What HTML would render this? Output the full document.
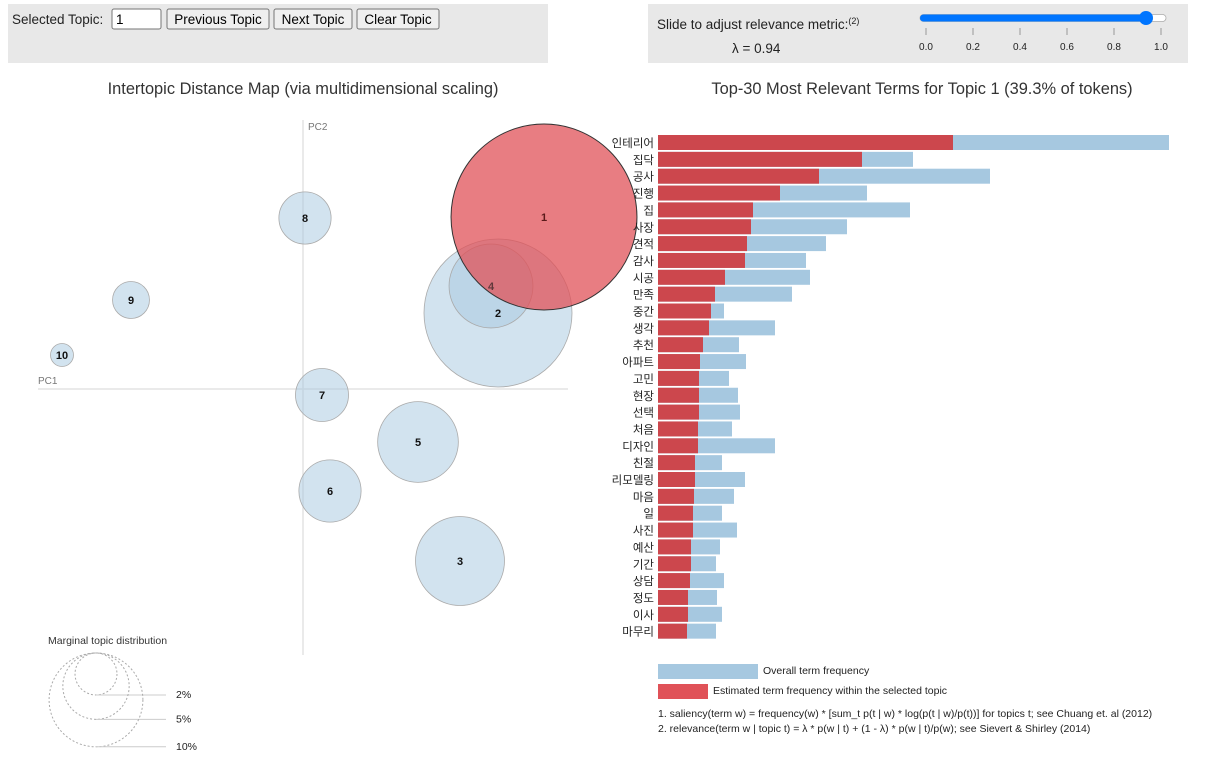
<!DOCTYPE html>
<html><head><meta charset="utf-8">
<style>
body{margin:0;background:#fff;font-family:"Liberation Sans","Noto Sans CJK KR",sans-serif;}
svg text{font-family:"Liberation Sans","Noto Sans CJK KR",sans-serif;}
</style></head>
<body>
<svg id="root" width="1222" height="777" viewBox="0 0 1222 777" xmlns="http://www.w3.org/2000/svg">
  <rect x="8" y="4" width="540" height="59" fill="#e8e8e8"/>
  <text x="12" y="24" font-size="13.5" fill="#222">Selected Topic:</text>
  <rect x="112" y="9" width="49" height="20" fill="#fff" stroke="#767676" rx="2"/>
  <text x="116" y="24" font-size="13.5" fill="#000">1</text>
  <g><rect x="167" y="9" width="102" height="20" fill="#efefef" stroke="#767676" rx="2"/><text x="218" y="24" font-size="13.5" text-anchor="middle" fill="#000">Previous Topic</text></g>
  <g><rect x="274" y="9" width="78" height="20" fill="#efefef" stroke="#767676" rx="2"/><text x="313" y="24" font-size="13.5" text-anchor="middle" fill="#000">Next Topic</text></g>
  <g><rect x="357" y="9" width="82" height="20" fill="#efefef" stroke="#767676" rx="2"/><text x="398" y="24" font-size="13.5" text-anchor="middle" fill="#000">Clear Topic</text></g>

  <rect x="648" y="4" width="540" height="59" fill="#e8e8e8"/>
  <text x="657" y="29" font-size="13.5" fill="#222">Slide to adjust relevance metric:<tspan font-size="9" dy="-5">(2)</tspan></text>
  <text x="732" y="53" font-size="13.5" fill="#222">λ = 0.94</text>
  <g>
    <rect x="920" y="14.5" width="246" height="7" rx="3.5" fill="#fff" stroke="#aaa" stroke-width="0.8"/>
    <rect x="920" y="14.5" width="226" height="7" rx="3.5" fill="#0075ff"/>
    <circle cx="1146" cy="18" r="7" fill="#0075ff"/>
  </g>
  <g id="sliderTicks"></g>

  <text x="303" y="94" font-size="16.4" text-anchor="middle" fill="#333">Intertopic Distance Map (via multidimensional scaling)</text>
  <text x="922" y="94" font-size="16.4" text-anchor="middle" fill="#333">Top-30 Most Relevant Terms for Topic 1 (39.3% of tokens)</text>

  <line x1="38" y1="389" x2="568" y2="389" stroke="#e3e3e3" stroke-width="1.5"/>
  <line x1="303" y1="120" x2="303" y2="655" stroke="#e3e3e3" stroke-width="1.5"/>
  <text x="38" y="384" font-size="10" fill="#777">PC1</text>
  <text x="308" y="130" font-size="10" fill="#777">PC2</text>
  <g id="circles"></g>

  <g>
    <text x="48" y="644" font-size="10.5" fill="#333">Marginal topic distribution</text>
    <g id="margLegend"></g>
  </g>

  <g id="bars"></g>

  <rect x="658" y="664" width="100" height="15" fill="#a6c8e0"/>
  <text x="763" y="674" font-size="10.5" fill="#222">Overall term frequency</text>
  <rect x="658" y="684" width="50" height="15" fill="#e05258"/>
  <text x="713" y="694" font-size="10.5" fill="#222">Estimated term frequency within the selected topic</text>
  <text x="658" y="717" font-size="10.5" fill="#222">1. saliency(term w) = frequency(w) * [sum_t p(t | w) * log(p(t | w)/p(t))] for topics t; see Chuang et. al (2012)</text>
  <text x="658" y="732" font-size="10.5" fill="#222">2. relevance(term w | topic t) = λ * p(w | t) + (1 - λ) * p(w | t)/p(w); see Sievert &amp; Shirley (2014)</text>
</svg>
<script>
const topicIds=[1,2,3,4,5,6,7,8,9,10];
const pc1=[0.241,0.195,0.157,0.188,0.115,0.027,0.019,0.002,-0.172,-0.241];
const pc2=[0.172,0.076,-0.172,0.103,-0.053,-0.102,-0.006,0.171,0.089,0.034];
const topicFreq=[39.3,24.9,9.0,8.0,7.4,4.4,3.2,3.1,1.55,0.6];
const terms=["인테리어","집닥","공사","진행","집","사장","견적","감사","시공","만족","중간","생각","추천","아파트","고민","현장","선택","처음","디자인","친절","리모델링","마음","일","사진","예산","기간","상담","정도","이사","마무리"];
const topicTermFreq=[295,204,161,122,95,93,89,87,67,57,53,51,45,42,41,41,41,40,40,37,37,36,35,35,33,33,32,30,30,29];
const overallTermFreq=[511,255,332,209,252,189,168,148,152,134,66,117,81,88,71,80,82,74,117,64,87,76,64,79,62,58,66,59,64,58];
const sliderTicks=["0.0","0.2","0.4","0.6","0.8","1.0"];
const legendPct=[2,5,10];
const NS="http://www.w3.org/2000/svg";
function mk(t,a,p){const e=document.createElementNS(NS,t);for(const k in a)e.setAttribute(k,a[k]);p.appendChild(e);return e;}
const sx=v=>303+v*1000, sy=v=>389-v*1000, sr=f=>Math.sqrt(f)*14.83;
const st=document.getElementById('sliderTicks');
sliderTicks.forEach((t,i)=>{const x=926+i*47;
 const l=mk('line',{x1:x,y1:28,x2:x,y2:35,stroke:'#999','stroke-width':1},st);
 
 
 const tx=mk('text',{x:x,y:50,'font-size':10,'text-anchor':'middle',fill:'#222'},st);tx.textContent=t;
 
 
});
const cg=document.getElementById('circles');
const order=[2,3,4,5,6,7,8,9,10,1];
order.forEach(id=>{const i=id-1;const sel=id===1;
 const c=mk('circle',{cx:sx(pc1[i]),cy:sy(pc2[i]),r:sr(topicFreq[i]),fill:sel?'#e05258':'#a6c8e0','fill-opacity':sel?0.75:0.5,stroke:sel?'#333':'#aaa','stroke-width':sel?1:0.8},cg);
 
 
});
topicIds.forEach((id,i)=>{
 const t=mk('text',{x:sx(pc1[i]),y:sy(pc2[i])+4,'font-size':11,'font-weight':'bold','text-anchor':'middle',fill:id===1?'#5a1a1a':'#111','fill-opacity':id===4?0.6:1},cg);t.textContent=id;
 
 
});
const ml=document.getElementById('margLegend');
legendPct.forEach(p=>{const r=sr(p);const top=653;const cy=top+r;
 const c=mk('circle',{cx:96,cy:cy,r:r,fill:'none',stroke:'#aaa','stroke-dasharray':'2 2'},ml);
 
 
 const l=mk('line',{x1:96,y1:top+2*r,x2:166,y2:top+2*r,stroke:'#ccc'},ml);
 
 
 const t=mk('text',{x:176,y:top+2*r+3,'font-size':10.5,fill:'#222'},ml);t.textContent=p+'%';
 
 
});
const bg=document.getElementById('bars');
const bx=v=>658+v, by=i=>135+i*16.85, bh=15;
terms.forEach((t,i)=>{
 const o=mk('rect',{x:bx(0),y:by(i),width:bx(overallTermFreq[i])-bx(0),height:bh,fill:'#a6c8e0'},bg);
 
 
 const r=mk('rect',{x:bx(0),y:by(i),width:bx(topicTermFreq[i])-bx(0),height:bh,fill:'#cc474d'},bg);
 
 
 const tx=mk('text',{x:654,y:by(i)+12,'font-size':11.5,'text-anchor':'end',fill:'#222'},bg);tx.textContent=t;
 
 
});
</script>
</body></html>
